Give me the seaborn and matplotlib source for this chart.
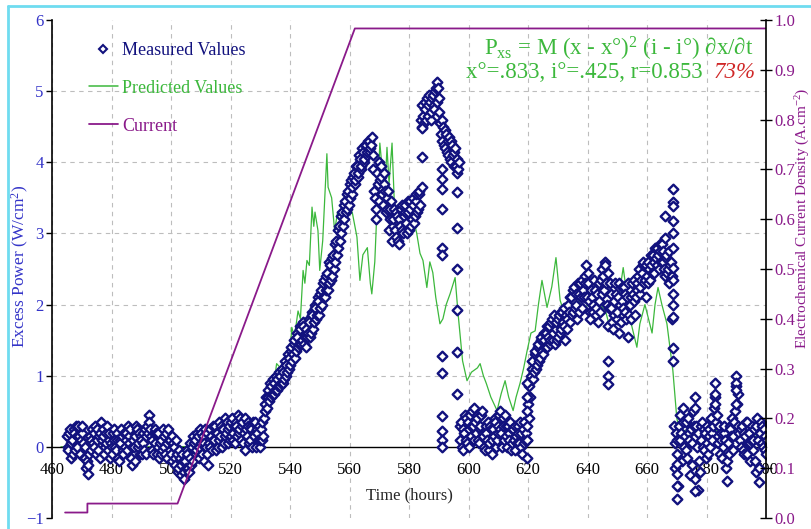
import numpy as np
import seaborn as sns
import matplotlib
matplotlib.use("Agg")
import matplotlib.pyplot as plt
from matplotlib.lines import Line2D

# measured excess power, two interleaved readings per half hour, per segment:
# first reading at start + k*0.5 h, second one a quarter hour later
meas_a_start = 465.0
meas_a = [0.15, -0.05, 0.25, 0.05, -0.1, 0.2, 0.3, 0.0, 0.15, -0.1,
          0.2, 0.05, -0.15, -0.3, -0.38, -0.1, 0.1, 0.25, 0.0, 0.3,
          0.1, -0.05, 0.2, 0.35, 0.15, -0.1, 0.05, 0.3, 0.1, -0.15,
          0.0, 0.2, 0.25, -0.05, 0.1, -0.2, 0.05, 0.15, -0.1, 0.0,
          0.2, 0.3, 0.05, -0.15, -0.25, 0.0, 0.15, 0.25, 0.05, -0.1,
          0.1, 0.2, -0.05, 0.15, 0.3, 0.45, 0.25, 0.1, -0.1, 0.05,
          0.2, 0.0, -0.15, 0.1, -0.05, 0.15, -0.1, 0.05, 0.25, 0.1, -0.1]
meas_a2 = [0.0, 0.2, -0.15, 0.1, 0.25, -0.05, 0.15, 0.3, -0.1, 0.1,
           0.3, -0.15, 0.0, -0.2, -0.25, 0.15, -0.05, 0.05, 0.2, -0.1,
           0.25, 0.15, -0.15, 0.1, 0.25, 0.0, 0.2, -0.05, 0.2, 0.05,
           -0.1, 0.1, 0.0, 0.2, -0.15, 0.1, 0.25, -0.05, 0.2, 0.1,
           -0.05, 0.15, 0.25, 0.0, 0.1, -0.2, 0.3, 0.0, 0.2, 0.15,
           -0.1, 0.05, 0.25, -0.1, 0.2, 0.35, 0.15, -0.05, 0.2, 0.25,
           -0.1, 0.2, 0.05, -0.1, 0.25, 0.0, 0.2, -0.15, 0.1, -0.05, 0.15]
meas_b_start = 500.5
meas_b = [-0.2, 0.0, -0.25, -0.1, -0.3, -0.15, -0.4, -0.2, -0.45, -0.3,
          -0.1, -0.35, -0.15, 0.0, -0.2, 0.1, -0.05, 0.15, 0.0, 0.2,
          -0.1, 0.05, 0.25, -0.1, -0.25, 0.0, 0.15, 0.3, 0.1, -0.05,
          0.2, 0.35, 0.15, 0.0, 0.25, 0.4, 0.2, 0.05, 0.3, 0.15,
          0.4, 0.2, 0.05, 0.3, 0.45, 0.25, 0.1, 0.35, 0.2, -0.05,
          0.15, 0.3, 0.1, 0.25, 0.35, 0.15, 0.0, 0.2, 0.3, 0.1]
meas_b2 = [0.05, -0.15, 0.1, -0.35, -0.05, -0.25, -0.1, -0.35, -0.2, -0.05,
           -0.3, 0.05, -0.25, 0.15, 0.05, -0.1, 0.2, -0.15, 0.25, 0.05,
           0.15, -0.2, 0.0, 0.2, 0.05, 0.25, -0.05, 0.1, 0.3, 0.2,
           0.0, 0.1, 0.3, 0.25, 0.05, 0.15, 0.35, 0.25, 0.1, 0.35,
           0.1, 0.3, 0.35, 0.15, 0.2, 0.4, 0.3, 0.05, 0.4, 0.25,
           0.35, 0.05, 0.3, 0.0, 0.2, 0.35, 0.25, 0.1, 0.0, 0.25]
meas_c_start = 530.5
meas_c = [0.35, 0.15, 0.5, 0.7, 0.8, 0.65, 0.85, 0.75, 0.9, 0.8,
          0.95, 0.85, 1.0, 0.9, 1.05, 0.95, 1.15, 1.05, 1.25, 1.15,
          1.4, 1.3, 1.5, 1.35, 1.55, 1.45, 1.65, 1.5, 1.7, 1.55,
          1.4, 1.6, 1.75, 1.6, 1.85, 1.75, 1.95, 1.85, 2.05, 1.95,
          2.2, 2.1, 2.35, 2.2, 2.45, 2.3, 2.55, 2.4, 2.7, 2.6,
          2.9, 2.8, 3.1, 3.0, 3.3, 3.2, 3.45, 3.35, 3.6, 3.5,
          3.75, 3.65, 3.85, 3.75, 3.95, 3.85, 4.05, 3.95, 4.15, 4.05,
          4.25, 4.15, 4.3, 4.2, 4.35]
meas_c2 = [0.1, 0.4, 0.6, 0.55, 0.7, 0.9, 0.7, 0.95, 0.75, 1.0,
           0.8, 1.05, 0.85, 1.1, 0.9, 1.2, 1.0, 1.3, 1.1, 1.35,
           1.2, 1.45, 1.25, 1.6, 1.4, 1.7, 1.45, 1.75, 1.45, 1.65,
           1.55, 1.8, 1.55, 1.9, 1.65, 2.0, 1.8, 2.1, 1.85, 2.15,
           2.0, 2.3, 2.1, 2.4, 2.2, 2.6, 2.35, 2.65, 2.5, 2.85,
           2.7, 3.05, 2.9, 3.25, 3.1, 3.4, 3.3, 3.55, 3.4, 3.7,
           3.55, 3.8, 3.7, 3.95, 3.8, 4.1, 3.9, 4.2, 4.0, 4.25,
           4.1, 4.3, 4.15, 4.25, 4.1]
meas_d_start = 568.0
meas_d = [3.9, 3.5, 3.2, 3.7, 4.0, 3.8, 3.55, 3.85, 3.6, 3.35,
          3.6, 3.2, 3.45, 3.1, 3.35, 2.95, 3.25, 2.85, 3.1, 3.4,
          3.0, 3.3, 3.15, 3.45, 3.05, 3.35, 3.2, 3.5, 3.25, 3.55,
          3.35, 3.6]
meas_d2 = [3.6, 3.35, 3.85, 3.45, 3.75, 3.95, 3.4, 3.7, 3.3, 3.5,
           3.05, 3.35, 2.9, 3.2, 3.05, 3.3, 2.9, 3.2, 3.35, 3.05,
           3.25, 3.4, 3.0, 3.3, 3.45, 3.1, 3.4, 3.15, 3.45, 3.3,
           3.55, 3.4]
meas_e_start = 584.0
meas_e = [4.6, 4.8, 4.55, 4.75, 4.9, 4.65, 4.85, 4.7, 4.95, 4.75,
          5.05, 5.13, 4.9, 4.55, 4.3, 4.5, 4.2, 4.4, 4.1, 4.35,
          4.0, 4.25, 3.95, 4.2, 4.05, 3.9]
meas_e2 = [4.5, 4.65, 4.85, 4.6, 4.8, 4.95, 4.6, 4.9, 4.8, 5.0,
           4.85, 5.05, 4.7, 4.4, 4.6, 4.25, 4.45, 4.15, 4.3, 4.05,
           4.3, 4.1, 4.15, 3.95, 3.85, 4.0]
meas_f_start = 597.0
meas_f = [0.1, 0.35, -0.05, 0.2, 0.4, 0.05, 0.25, 0.45, 0.15, 0.3,
          0.55, 0.2, 0.4, 0.05, 0.3, 0.5, 0.15, -0.05, 0.2, 0.35,
          0.05, 0.25, -0.1, 0.15, 0.35, 0.1, 0.3, 0.5, 0.2, 0.4,
          0.1, 0.3, 0.0, 0.2, 0.35, 0.05, 0.25, -0.05, 0.15, 0.3,
          0.05, 0.2, -0.1, 0.35, 0.1]
meas_f2 = [0.3, 0.0, 0.25, 0.45, 0.1, 0.35, 0.0, 0.3, 0.5, 0.1,
           0.35, 0.45, 0.1, 0.25, 0.45, 0.2, 0.0, 0.3, 0.1, -0.05,
           0.3, 0.1, 0.25, 0.4, 0.0, 0.2, 0.45, 0.25, 0.0, 0.3,
           0.45, 0.15, 0.3, 0.1, -0.05, 0.25, 0.1, 0.3, 0.05, 0.2,
           0.35, 0.0, 0.25, 0.05, 0.2]
meas_g_start = 619.5
meas_g = [0.3, 0.6, 0.85, 1.0, 1.2, 1.05, 1.35, 1.15, 1.45, 1.25,
          1.55, 1.3, 1.5, 1.6, 1.4, 1.7, 1.5, 1.8, 1.6, 1.45,
          1.75, 1.55, 1.85, 1.65, 1.9, 1.7, 1.5, 1.8, 2.0, 1.75,
          2.1, 1.9, 2.25, 2.0, 1.8, 2.15, 2.3, 1.95, 2.2, 2.4,
          2.55, 2.3, 2.05, 1.8, 2.1, 1.9, 2.2, 1.95, 1.75, 2.05,
          2.35, 2.5, 2.2, 2.55, 2.0, 1.7, 2.3, 1.95, 1.65, 1.85,
          2.15, 1.9, 1.6, 2.0, 2.25, 1.95, 2.15, 1.8, 1.55, 1.85,
          2.1, 2.3, 2.05, 1.85, 2.2, 2.4, 2.15, 2.35, 2.55, 2.3,
          2.1, 2.4, 2.6, 2.35, 2.55, 2.7, 2.45, 2.65, 2.8, 2.5,
          2.75, 2.85, 2.6, 2.4, 2.7, 2.5, 2.3, 2.6]
meas_g2 = [0.1, 0.4, 0.7, 1.1, 0.95, 1.3, 1.1, 1.4, 1.2, 1.5,
           1.35, 1.6, 1.4, 1.7, 1.55, 1.45, 1.75, 1.5, 1.85, 1.65,
           1.5, 1.8, 1.6, 1.9, 1.75, 1.95, 1.85, 1.65, 1.9, 2.1,
           1.85, 2.2, 1.95, 2.15, 2.3, 1.9, 2.1, 2.35, 2.1, 2.3,
           2.1, 2.45, 1.9, 2.2, 2.0, 2.35, 1.85, 2.15, 2.3, 1.9,
           2.15, 2.4, 2.6, 2.3, 2.45, 1.95, 2.15, 1.75, 2.05, 2.3,
           1.8, 2.1, 2.3, 1.75, 2.05, 2.25, 1.9, 2.1, 2.3, 2.0,
           1.8, 2.15, 2.35, 2.1, 2.3, 2.5, 2.25, 2.45, 2.6, 2.35,
           2.55, 2.3, 2.5, 2.7, 2.45, 2.6, 2.8, 2.55, 2.7, 2.85,
           2.6, 2.75, 2.5, 2.65, 2.45, 2.75, 2.55, 2.4]
meas_h_start = 668.5
meas_h = [1.8, 0.3, -0.3, 0.1, -0.55, 0.45, 0.2, 0.55, 0.0, 0.35,
          -0.15, 0.2, -0.4, 0.05, 0.5, 0.7, 0.3, -0.6, -0.2, 0.1,
          0.35, -0.05, 0.2, 0.05, -0.1, 0.25, 0.4, 0.1, 0.55, 0.9,
          0.45, 0.15, -0.1, 0.2, 0.0, 0.3, -0.3, -0.48, -0.1, 0.25,
          0.4, 0.15, 0.5, 1.0, 0.75, 0.2, 0.0, 0.3, -0.1, 0.15,
          0.35, 0.05, -0.2, 0.1, -0.05, 0.25, -0.35, 0.4, -0.5, 0.2,
          0.3, 0.0, 0.15, -0.1]
meas_h2 = [1.2, 0.05, 0.2, -0.1, 0.3, 0.1, -0.2, 0.35, 0.15, -0.05,
           0.4, 0.1, 0.25, -0.25, 0.3, 0.55, 0.0, 0.2, -0.35, 0.3,
           0.0, 0.25, -0.15, 0.3, 0.15, 0.0, 0.2, 0.3, 0.7, 0.35,
           0.05, 0.3, 0.1, -0.15, 0.2, 0.1, -0.2, 0.05, 0.3, 0.15,
           -0.05, 0.35, 0.85, 0.6, 0.3, 0.1, 0.25, -0.05, 0.2, 0.35,
           -0.1, 0.2, 0.05, 0.3, 0.1, -0.2, 0.3, 0.1, -0.3, 0.35,
           0.05, 0.25, -0.05, 0.1]

# scattered readings that fall off the main trace
extra_time = [584.3, 584.3, 584.3,
              591.2, 591.2, 591.2, 591.2, 591.2, 591.2, 591.2, 591.2, 591.2, 591.2, 591.2, 591.2,
              596.0, 596.0, 596.0, 596.0, 596.0, 596.0,
              619.5, 619.5, 619.5, 619.5, 619.5,
              647.0, 647.0, 647.0,
              666.0, 666.0,
              668.7, 668.7, 668.7, 668.7, 668.7, 668.7, 668.7, 668.7, 668.7, 668.7, 668.7, 668.7,
              670.0, 670.0, 670.0, 670.0,
              676.0, 676.0, 683.0, 683.0, 690.0, 690.0, 690.0]
extra_value = [4.48, 4.07, 3.65,
               3.9, 3.76, 3.62, 3.34, 2.8, 2.7, 1.28, 1.04, 0.44, 0.22, 0.1, 0.0,
               3.58, 3.07, 2.5, 1.92, 1.33, 0.74,
               -0.15, 0.1, 0.5, 0.7, 0.9,
               1.21, 1.0, 0.89,
               3.25, 2.94,
               3.63, 3.44, 3.39, 3.18, 3.0, 2.8, 2.52, 2.35, 2.15, 2.0, 1.82, 1.39,
               -0.24, -0.38, -0.55, -0.73,
               -0.62, -0.45, 0.75, 0.6, 0.9, 0.8, 0.6]

# predicted excess power
pred_time = [463, 500, 527, 529, 531, 533, 534, 535.5, 537, 539, 540, 540.6, 541.5,
             542.7, 543.5, 544.4, 545, 545.7, 546.5, 547.4, 548, 548.4, 549.4, 550,
             551, 552.4, 552.8, 554, 555, 556, 557.5, 559, 560, 561, 562.5, 563.5,
             564.5, 566, 567, 567.5, 568.5, 569.5, 570.2, 571, 571.8, 572.6, 573.3,
             574.3, 575, 576, 577, 578, 579, 580, 581, 582.6, 583.7, 584.7, 586, 587,
             588, 589, 590.4, 591.4, 592.5, 593.8, 595.5, 596.5, 598, 599.5, 601, 603,
             603.9, 605, 606, 607.5, 609.6, 611, 612.3, 613.5, 615, 616, 617.3, 618.5,
             619.7, 621, 622.4, 623.5, 624.7, 626.4, 628, 629.4, 630.8, 633, 635, 637,
             639, 641, 642.5, 644, 646, 648, 650, 652, 654.3, 656.6, 657.6, 659.3,
             660.5, 661.7, 662.7, 663.7, 665, 666.7, 668.7, 670, 671, 674, 678, 682,
             686, 690, 694, 698, 700]
pred_value = [0.0, 0.0, 0.02, 0.15, 0.45, 0.75, 0.7, 1.17, 1.1, 1.35, 1.3, 1.68, 1.55,
              1.91, 1.8, 2.48, 2.3, 2.62, 2.55, 3.37, 3.1, 3.3, 3.04, 2.48,
              2.9, 4.12, 3.65, 3.5, 3.04, 3.3, 3.1, 3.25, 3.4, 3.28, 2.95, 2.34,
              2.7, 2.8, 2.3, 2.15, 2.6, 3.6, 4.27, 3.9, 3.5, 4.21, 3.7,
              4.27, 3.5, 2.8, 3.1, 3.4, 3.0, 3.05, 3.3, 3.0, 2.72, 2.62, 2.24, 2.6,
              2.45, 2.1, 1.73, 1.8, 2.0, 2.15, 2.38, 1.87, 1.21, 0.93, 1.05, 1.11,
              1.17, 1.0, 0.89, 0.7, 0.51, 0.75, 0.93, 0.7, 0.51, 0.7, 0.89, 1.1,
              1.35, 1.6, 1.63, 2.0, 2.34, 1.96, 2.25, 2.66, 2.06, 1.77, 1.95, 2.05,
              1.9, 2.1, 2.2, 2.0, 1.92, 1.6, 1.95, 2.52, 1.8, 1.4, 1.73, 2.0,
              1.8, 1.6, 2.0, 2.24, 2.0, 1.73, 1.07, 0.41, 0.2, 0.25, 0.15, 0.3,
              0.1, 0.25, 0.1, 0.18, 0.15]

# electrochemical current density (A/cm2)
cur_time = [464.4, 471.9, 471.9, 502.2, 561.8, 700]
cur_value = [0.011, 0.011, 0.029, 0.029, 0.983, 0.983]

x_ticks = [460, 480, 500, 520, 540, 560, 580, 600, 620, 640, 660, 680, 700]
y_ticks = [-1, 0, 1, 2, 3, 4, 5, 6]
y2_ticks = [0.0, 0.1, 0.2, 0.3, 0.4, 0.5, 0.6, 0.7, 0.8, 0.9, 1.0]

NAVY = "#12127e"
GREEN = "#3cb83c"
PURPLE = "#8a1a8a"
BLUE = "#3434c8"
RED = "#d02828"

segments = [(meas_a_start, meas_a, meas_a2), (meas_b_start, meas_b, meas_b2),
            (meas_c_start, meas_c, meas_c2), (meas_d_start, meas_d, meas_d2),
            (meas_e_start, meas_e, meas_e2), (meas_f_start, meas_f, meas_f2),
            (meas_g_start, meas_g, meas_g2), (meas_h_start, meas_h, meas_h2)]
times, values = [], []
for start, first, second in segments:
    steps = 0.5 * np.arange(len(first))
    for t0, v1, v2 in zip(start + steps, first, second):
        times += [t0, t0 + 0.25]
        values += [v1, v2]
meas_time = np.concatenate([times, extra_time])
meas_value = np.concatenate([values, extra_value])

sns.set_style("white")
plt.rcParams["font.family"] = ["Liberation Serif", "DejaVu Serif"]
plt.rcParams["mathtext.fontset"] = "custom"
plt.rcParams["mathtext.rm"] = "Liberation Serif"
plt.rcParams["mathtext.it"] = "Liberation Serif:italic"

fig = plt.figure(figsize=(8.11, 5.29), dpi=100)
ax = fig.add_axes([52 / 811, 11 / 529, 714 / 811, 498 / 529])

sns.lineplot(x=pred_time, y=pred_value, ax=ax, color=GREEN, lw=0.9,
             estimator=None, sort=False, zorder=2)
sns.scatterplot(x=meas_time, y=meas_value, ax=ax, marker="D", s=24,
                color="white", edgecolor=NAVY, linewidth=1.7, zorder=3, legend=False)

ax.set_xlim(460, 700)
ax.set_ylim(-1, 6)
ax.set_xticks(x_ticks)
ax.set_yticks(y_ticks)
ax.grid(True, ls=(0, (4, 4)), color="#bdbdbd", lw=0.8)
for i, gl in enumerate(ax.yaxis.get_gridlines()):
    if y_ticks[i] in (-1, 0, 6):
        gl.set_visible(False)
ax.spines["bottom"].set_position(("data", 0))
ax.spines["bottom"].set_color("black")
ax.spines["bottom"].set_linewidth(1.0)
ax.spines["left"].set_color("black")
ax.spines["left"].set_linewidth(1.2)
ax.spines["top"].set_visible(False)
ax.spines["right"].set_visible(False)
ax.tick_params(axis="x", length=0, pad=11, labelsize=12, labelcolor="black")
ax.tick_params(axis="y", direction="out", length=4, width=1, color="black",
               labelsize=12, labelcolor=BLUE, pad=2)
for lbl in ax.get_xticklabels():
    lbl.set_bbox(dict(facecolor="white", edgecolor="none", pad=0.3))
ax.set_xlabel("Time (hours)", fontsize=12)
ax.xaxis.set_label_coords(0.5, 0.062)
ax.set_ylabel("")

ax2 = ax.twinx()
sns.lineplot(x=cur_time, y=cur_value, ax=ax2, color=PURPLE, lw=1.3,
             estimator=None, sort=False)
ax2.set_ylim(0, 1.0)
ax2.set_yticks(y2_ticks)
ax2.set_yticklabels([f"{v:.1f}" for v in y2_ticks])
ax2.set_ylabel("")
for side in ("top", "bottom", "left"):
    ax2.spines[side].set_visible(False)
ax2.spines["right"].set_color("black")
ax2.spines["right"].set_linewidth(1.2)
ax2.tick_params(axis="y", direction="inout", length=8, width=1, color="black",
                labelsize=12, labelcolor=PURPLE, pad=2)

fig.text(20 / 811, 1 - 266 / 529, "Excess Power (W/cm$^2$)", rotation=90,
         ha="center", va="center", color=BLUE, fontsize=12.5)
fig.text(803 / 811, 1 - 218 / 529, "Electrochemical Current Density (A.cm$^{-2}$)",
         rotation=90, ha="center", va="center", color=PURPLE, fontsize=11)

# legend
handles = [Line2D([], [], ls="none", marker="D", ms=4.5, mfc="white", mec=NAVY, mew=1.5),
           Line2D([], [], color=GREEN, lw=1.1),
           Line2D([], [], color=PURPLE, lw=1.3)]
leg = ax.legend(handles, ["Measured Values", "Predicted Values", "Current"],
                loc="upper left", bbox_to_anchor=(80 / 811, 1 - 33 / 529),
                bbox_transform=fig.transFigure, frameon=False, fontsize=13,
                handlelength=1.6, handletextpad=0.25, labelspacing=1.15, borderpad=0)
for txt, col in zip(leg.get_texts(), [NAVY, GREEN, PURPLE]):
    txt.set_color(col)

# model annotation
fig.text(619 / 811, 1 - 49 / 529,
         "P$_{\\rm xs}$ = M (x - x°)$^{2}$ (i - i°) \u2202x/\u2202t",
         ha="center", va="center", color=GREEN, fontsize=16.5,
         family=["Liberation Serif", "DejaVu Serif"])
fig.text(703 / 811, 1 - 73 / 529, "x°=.833, i°=.425, r=0.853",
         ha="right", va="center", color=GREEN, fontsize=16.5)
fig.text(714 / 811, 1 - 73 / 529, "73%", ha="left", va="center",
         color=RED, fontsize=16.5, style="italic")

# light frame around the figure
fig.add_artist(Line2D([8 / 811, 8 / 811], [0, 1 - 6 / 529], color="#6fdcf0", lw=2,
                      transform=fig.transFigure))
fig.add_artist(Line2D([8 / 811, 1], [1 - 6 / 529, 1 - 6 / 529], color="#6fdcf0", lw=2,
                      transform=fig.transFigure))

fig.savefig("out.png", dpi=100, facecolor="white")
